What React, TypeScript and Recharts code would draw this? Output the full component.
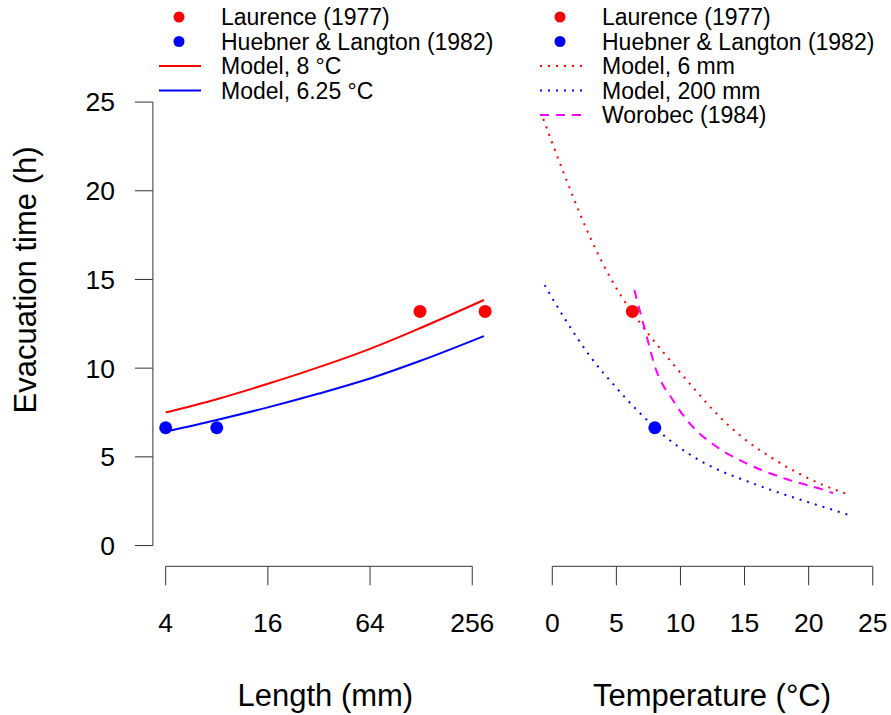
import React from "react";
import { ComposedChart, Line, Scatter, XAxis, YAxis, ReferenceLine } from "recharts";

const FONT = '"Liberation Sans", Arial, sans-serif';

// shared y scale (evacuation time, h)
const Y_MIN = -1.17;
const Y_MAX = 30.19;
const Y_TICKS = [0, 5, 10, 15, 20, 25];

// left panel: length (mm), log2 axis
const LX_MIN = 3.3636;
const LX_MAX = 362.04;
const LEN_TICKS = [4, 16, 64, 256];
const LEN_MODEL = [4, 8, 16, 32, 64, 128, 300];
const EVAC_8C = [7.5, 8.25, 9.12, 10.06, 11.09, 12.28, 13.84];
const EVAC_625C = [6.43, 7.08, 7.79, 8.57, 9.42, 10.43, 11.81];
const LAURENCE_LEN = [126, 305];
const LAURENCE_LEN_EVAC = [13.2, 13.2];
const HL_LEN = [4, 8];
const HL_LEN_EVAC = [6.64, 6.64];

// right panel: temperature (°C)
const TX_MIN = -1.02;
const TX_MAX = 25.94;
const TEMP_TICKS = [0, 5, 10, 15, 20, 25];
const TEMP_6MM = [-0.7, 1, 3, 5, 7, 9, 11, 13, 15, 17, 19, 21, 23.1];
const EVAC_6MM = [24.05, 20.8, 17.3, 14.5, 12.4, 10.6, 8.9, 7.3, 6.0, 5.0, 4.15, 3.45, 2.88];
const TEMP_200MM = [-0.6, 1, 3, 5, 7, 9, 11, 13, 15, 17, 19, 21, 23.3];
const EVAC_200MM = [14.68, 12.76, 10.62, 8.89, 7.35, 6.03, 5.01, 4.25, 3.68, 3.15, 2.67, 2.21, 1.69];
const WOROBEC_TEMP = [6.4, 7.2, 8.1, 9.4, 10.7, 12.8, 15.1, 18, 21.1, 21.9];
const WOROBEC_EVAC = [14.4, 12.24, 9.9, 8.21, 6.9, 5.58, 4.65, 3.81, 3.15, 2.96];
const LAURENCE_TEMP = [6.25];
const LAURENCE_TEMP_EVAC = [13.2];
const HL_TEMP = [8];
const HL_TEMP_EVAC = [6.64];

const RED = "#FF0000";
const BLUE = "#0000FF";
const MAGENTA = "#FF00FF";
const AXIS = "#333";

const zip = (xs: number[], ys: number[]) => xs.map((x, i) => ({ x, y: ys[i] }));

const dotShape = (color: string) => (p: any) => (
  <circle cx={p.cx} cy={p.cy} r={6.5} fill={color} />
);

const tickStyle = { fill: "#000", fontSize: 26.5, fontFamily: FONT };
const titleStyle = { fill: "#000", fontSize: 31, fontFamily: FONT };

type LegendRow = { label: string; color: string; kind: "dot" | "solid" | "dotted" | "dashed" };

const LEFT_LEGEND: LegendRow[] = [
  { label: "Laurence (1977)", color: RED, kind: "dot" },
  { label: "Huebner & Langton (1982)", color: BLUE, kind: "dot" },
  { label: "Model, 8 °C", color: RED, kind: "solid" },
  { label: "Model, 6.25 °C", color: BLUE, kind: "solid" },
];

const RIGHT_LEGEND: LegendRow[] = [
  { label: "Laurence (1977)", color: RED, kind: "dot" },
  { label: "Huebner & Langton (1982)", color: BLUE, kind: "dot" },
  { label: "Model, 6 mm", color: RED, kind: "dotted" },
  { label: "Model, 200 mm", color: BLUE, kind: "dotted" },
  { label: "Worobec (1984)", color: MAGENTA, kind: "dashed" },
];

function LegendBlock({ rows, x0 }: { rows: LegendRow[]; x0: number }) {
  return (
    <g>
      {rows.map((r, i) => {
        const y = 17 + i * 24.5;
        let mark;
        if (r.kind === "dot") mark = <circle cx={x0 + 20} cy={y} r={5.5} fill={r.color} />;
        else
          mark = (
            <line
              x1={x0}
              x2={x0 + 42}
              y1={y}
              y2={y}
              stroke={r.color}
              strokeWidth={2}
              strokeDasharray={r.kind === "dotted" ? "2 6" : r.kind === "dashed" ? "9 7" : undefined}
            />
          );
        return (
          <g key={r.label}>
            {mark}
            <text x={x0 + 62} y={y} dominantBaseline="central" fontSize={23} fontFamily={FONT} fill="#000">
              {r.label}
            </text>
          </g>
        );
      })}
    </g>
  );
}

export default function App() {
  return (
    <div style={{ position: "absolute", left: 0, top: 0, width: 891, height: 715, background: "#fff" }}>
      <div style={{ position: "absolute", left: 0, top: 0 }}>
        <ComposedChart width={520} height={715} margin={{ top: 10, right: 22.2, bottom: 88.7, left: 92.9 }}>
          <XAxis
            type="number"
            dataKey="x"
            scale="log"
            domain={[LX_MIN, LX_MAX]}
            allowDataOverflow
            ticks={LEN_TICKS}
            interval={0}
            height={60}
            tickSize={19}
            tickMargin={28}
            axisLine={false}
            tickLine={{ stroke: AXIS }}
            tick={tickStyle}
            label={{ value: "Length (mm)", position: "bottom", offset: 57.5, ...titleStyle }}
          />
          <YAxis
            type="number"
            dataKey="y"
            domain={[Y_MIN, Y_MAX]}
            allowDataOverflow
            ticks={Y_TICKS}
            interval={0}
            width={60}
            tickSize={18}
            tickMargin={20}
            axisLine={false}
            tickLine={{ stroke: AXIS }}
            tick={tickStyle}
          />
          <ReferenceLine segment={[{ x: 4, y: Y_MIN }, { x: 256, y: Y_MIN }]} stroke={AXIS} ifOverflow="visible" />
          <ReferenceLine segment={[{ x: LX_MIN, y: 0 }, { x: LX_MIN, y: 25 }]} stroke={AXIS} ifOverflow="visible" />
          <Line data={zip(LEN_MODEL, EVAC_8C)} dataKey="y" type="monotone" stroke={RED} strokeWidth={2} dot={false} isAnimationActive={false} />
          <Line data={zip(LEN_MODEL, EVAC_625C)} dataKey="y" type="monotone" stroke={BLUE} strokeWidth={2} dot={false} isAnimationActive={false} />
          <Scatter data={zip(LAURENCE_LEN, LAURENCE_LEN_EVAC)} shape={dotShape(RED)} isAnimationActive={false} />
          <Scatter data={zip(HL_LEN, HL_LEN_EVAC)} shape={dotShape(BLUE)} isAnimationActive={false} />
        </ComposedChart>
      </div>
      <div style={{ position: "absolute", left: 520, top: 0 }}>
        <ComposedChart width={371} height={715} margin={{ top: 10, right: 6.2, bottom: 88.7, left: 19.2 }}>
          <XAxis
            type="number"
            dataKey="x"
            domain={[TX_MIN, TX_MAX]}
            allowDataOverflow
            ticks={TEMP_TICKS}
            interval={0}
            height={60}
            tickSize={19}
            tickMargin={28}
            axisLine={false}
            tickLine={{ stroke: AXIS }}
            tick={tickStyle}
            label={{ value: "Temperature (°C)", position: "bottom", offset: 57.5, ...titleStyle }}
          />
          <YAxis type="number" dataKey="y" domain={[Y_MIN, Y_MAX]} allowDataOverflow hide width={0} />
          <ReferenceLine segment={[{ x: 0, y: Y_MIN }, { x: 25, y: Y_MIN }]} stroke={AXIS} ifOverflow="visible" />
          <Line data={zip(TEMP_6MM, EVAC_6MM)} dataKey="y" type="monotone" stroke={RED} strokeWidth={2} strokeDasharray="2 6" dot={false} isAnimationActive={false} />
          <Line data={zip(TEMP_200MM, EVAC_200MM)} dataKey="y" type="monotone" stroke={BLUE} strokeWidth={2} strokeDasharray="2 6" dot={false} isAnimationActive={false} />
          <Line data={zip(WOROBEC_TEMP, WOROBEC_EVAC)} dataKey="y" type="monotone" stroke={MAGENTA} strokeWidth={2} strokeDasharray="9 7" dot={false} isAnimationActive={false} />
          <Scatter data={zip(LAURENCE_TEMP, LAURENCE_TEMP_EVAC)} shape={dotShape(RED)} isAnimationActive={false} />
          <Scatter data={zip(HL_TEMP, HL_TEMP_EVAC)} shape={dotShape(BLUE)} isAnimationActive={false} />
        </ComposedChart>
      </div>
      <svg width={891} height={715} style={{ position: "absolute", left: 0, top: 0, pointerEvents: "none" }}>
        <LegendBlock rows={LEFT_LEGEND} x0={159} />
        <LegendBlock rows={RIGHT_LEGEND} x0={540} />
        <text
          x={25.5}
          y={280}
          transform="rotate(-90 25.5 280)"
          textAnchor="middle"
          dominantBaseline="central"
          fontSize={31}
          fontFamily={FONT}
          fill="#000"
        >
          Evacuation time (h)
        </text>
      </svg>
    </div>
  );
}
